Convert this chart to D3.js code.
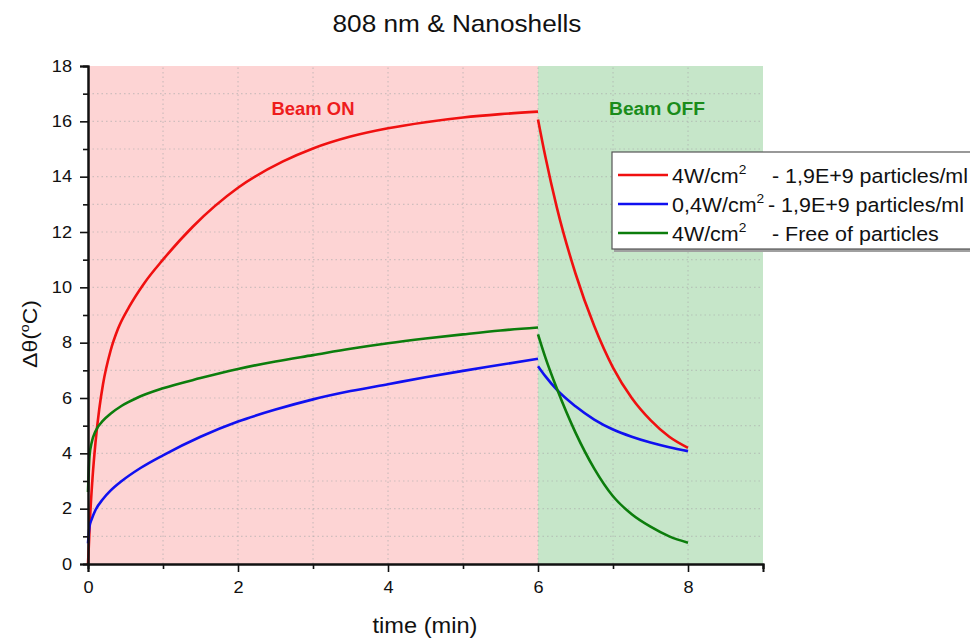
<!DOCTYPE html>
<html>
<head>
<meta charset="utf-8">
<script src="https://cdn.jsdelivr.net/npm/d3@7"></script>
<style>
  body { margin: 0; background: #fff; }
  svg { font-family: "Liberation Sans", Arial, sans-serif; }
</style>
</head>
<body>
<svg id="chart" width="970" height="639"></svg>
<script>
// values: [time (min), delta theta (C)]
var redOn = [[0, 0], [0.03, 1.8], [0.06, 3.1], [0.1, 4.4], [0.15, 5.6], [0.2, 6.5], [0.3, 7.7], [0.4, 8.5],
    [0.55, 9.3], [0.75, 10.15], [1, 11.0], [1.4, 12.2], [2, 13.6], [2.6, 14.55], [3, 15.02], [3.5, 15.45],
    [4, 15.75], [4.5, 15.97], [5, 16.14], [5.5, 16.26], [6, 16.35]];
var redOff = [[6, 16.07], [6.1, 14.7], [6.25, 12.9], [6.5, 10.5], [6.75, 8.6], [7, 7.1], [7.25, 6.0],
    [7.5, 5.2], [7.75, 4.6], [8, 4.2]];
var blueOn = [[0, 0.75], [0.02, 1.35], [0.05, 1.62], [0.1, 1.95], [0.2, 2.35], [0.3, 2.65], [0.45, 3.0],
    [0.7, 3.47], [1, 3.93], [1.5, 4.6], [2, 5.15], [2.5, 5.58], [3, 5.95], [3.5, 6.25], [4, 6.5],
    [4.5, 6.75], [5, 6.98], [5.5, 7.2], [6, 7.42]];
var blueOff = [[6, 7.15], [6.1, 6.78], [6.25, 6.3], [6.5, 5.7], [6.75, 5.22], [7, 4.86], [7.25, 4.6],
    [7.5, 4.39], [7.75, 4.22], [8, 4.08]];
var greenOn = [[0, 2.6], [0.02, 3.9], [0.05, 4.4], [0.1, 4.8], [0.2, 5.18], [0.3, 5.43], [0.45, 5.72],
    [0.65, 6.0], [1, 6.35], [1.5, 6.72], [2, 7.05], [2.5, 7.32], [3, 7.55], [3.5, 7.78], [4, 7.98],
    [4.5, 8.15], [5, 8.3], [5.5, 8.44], [6, 8.55]];
var greenOff = [[6, 8.3], [6.1, 7.45], [6.25, 6.35], [6.5, 4.75], [6.75, 3.45], [7, 2.45], [7.25, 1.8],
    [7.5, 1.35], [7.75, 1.0], [8, 0.77]];

var xTicks = [0, 2, 4, 6, 8];
var xMinor = [1, 3, 5, 7, 9];
var yTicks = [0, 2, 4, 6, 8, 10, 12, 14, 16, 18];
var yMinor = [1, 3, 5, 7, 9, 11, 13, 15, 17];

var series = [
    {name: 'red', color: '#f01010', parts: [redOn, redOff], label: '4W/cm', rest: '- 1,9E+9 particles/ml'},
    {name: 'blue', color: '#1010f0', parts: [blueOn, blueOff], label: '0,4W/cm', rest: '- 1,9E+9 particles/ml'},
    {name: 'green', color: '#0c7d0c', parts: [greenOn, greenOff], label: '4W/cm', rest: '- Free of particles'}
];

var svg = d3.select('#chart');
var x = d3.scaleLinear().domain([0, 9]).range([88, 763]);
var y = d3.scaleLinear().domain([0, 18]).range([564, 66]);

// the reference text is a bit wider than it is tall
var STRETCH = 1.1;

function stretch(sel, k) {
    sel.each(function() {
        var t = d3.select(this);
        var tx = +t.attr('x') || 0, ty = +t.attr('y') || 0;
        t.attr('x', 0).attr('y', 0)
            .attr('transform', 'translate(' + tx + ',' + ty + ') scale(' + k + ',1)');
    });
}

function fitWidth(sel, w) {
    var bw = sel.node().getBBox().width;
    stretch(sel, w / bw);
}

// background regions
svg.append('rect').attr('x', x(0)).attr('y', y(18))
    .attr('width', x(6) - x(0)).attr('height', y(0) - y(18)).attr('fill', '#fdd4d4');
svg.append('rect').attr('x', x(6)).attr('y', y(18))
    .attr('width', x(9) - x(6)).attr('height', y(0) - y(18)).attr('fill', '#c6e6c9');

// dotted grid
var grid = svg.append('g').attr('stroke', '#a9a9a9').attr('stroke-opacity', 0.55)
    .attr('stroke-width', 1.2).attr('stroke-dasharray', '1.5,3');
grid.selectAll('line.h').data(d3.range(1, 18)).enter().append('line')
    .attr('x1', x(0)).attr('x2', x(9)).attr('y1', function(d) { return y(d); }).attr('y2', function(d) { return y(d); });
grid.selectAll('line.v').data(d3.range(1, 9)).enter().append('line')
    .attr('y1', y(0)).attr('y2', y(18)).attr('x1', function(d) { return x(d); }).attr('x2', function(d) { return x(d); });

// curves
var line = d3.line()
    .x(function(d) { return x(d[0]); })
    .y(function(d) { return y(d[1]); })
    .curve(d3.curveMonotoneX);

series.forEach(function(s) {
    s.parts.forEach(function(p) {
        svg.append('path').datum(p).attr('d', line)
            .attr('fill', 'none').attr('stroke', s.color).attr('stroke-width', 2.6);
    });
});

// axes
svg.append('g').attr('transform', 'translate(0,' + y(0) + ')')
    .call(d3.axisBottom(x).tickValues(xMinor).tickSize(5).tickFormat(''));
svg.append('g').attr('transform', 'translate(' + x(0) + ',0)')
    .call(d3.axisLeft(y).tickValues(yMinor).tickSize(5).tickFormat(''));
var xAxis = svg.append('g').attr('transform', 'translate(0,' + y(0) + ')')
    .call(d3.axisBottom(x).tickValues(xTicks).tickSize(8).tickPadding(9).tickFormat(d3.format('d')));
var yAxis = svg.append('g').attr('transform', 'translate(' + x(0) + ',0)')
    .call(d3.axisLeft(y).tickValues(yTicks).tickSize(8).tickPadding(8).tickFormat(d3.format('d')));

svg.selectAll('.domain').attr('stroke', '#111').attr('stroke-width', 2);
svg.selectAll('.tick line').attr('stroke', '#111').attr('stroke-width', 1.6);
svg.selectAll('.tick text').attr('fill', '#111').style('font-size', '16.5px')
    .style('font-family', '"Liberation Sans", Arial, sans-serif');
stretch(xAxis.selectAll('.tick text'), STRETCH);
stretch(yAxis.selectAll('.tick text'), STRETCH);

// titles
var title = svg.append('text').attr('x', 457).attr('y', 32).attr('text-anchor', 'middle')
    .style('font-size', '24px').attr('fill', '#111').text('808 nm & Nanoshells');
fitWidth(title, 249);

var xTitle = svg.append('text').attr('x', 425).attr('y', 633).attr('text-anchor', 'middle')
    .style('font-size', '22px').attr('fill', '#111').text('time (min)');
fitWidth(xTitle, 105);

var yl = svg.append('g').attr('transform', 'translate(37,334) rotate(-90)')
    .append('text').attr('text-anchor', 'middle').style('font-size', '21px').attr('fill', '#111');
yl.append('tspan').text('\u0394\u03b8(');
yl.append('tspan').attr('dy', -8).style('font-size', '13px').text('o');
yl.append('tspan').attr('dy', 8).text('C)');
fitWidth(yl, 68);

var onLabel = svg.append('text').attr('x', 313).attr('y', 115).attr('text-anchor', 'middle')
    .style('font-size', '18px').style('font-weight', 'bold').attr('fill', '#ee1c1c').text('Beam ON');
fitWidth(onLabel, 83);
var offLabel = svg.append('text').attr('x', 657).attr('y', 115).attr('text-anchor', 'middle')
    .style('font-size', '18px').style('font-weight', 'bold').attr('fill', '#1a8c1a').text('Beam OFF');
fitWidth(offLabel, 96);

// legend
var lg = svg.append('g').attr('transform', 'translate(612,152)');
lg.append('rect').attr('x', 2).attr('y', 3).attr('width', 400).attr('height', 97).attr('fill', '#a0a0a0');
lg.append('rect').attr('x', 0).attr('y', 0).attr('width', 400).attr('height', 97)
    .attr('fill', '#fff').attr('stroke', '#555').attr('stroke-width', 1.2);

series.forEach(function(s, i) {
    var row = lg.append('g').attr('transform', 'translate(0,' + (23 + i * 29) + ')');
    row.append('line').attr('x1', 6).attr('x2', 56).attr('y1', 0).attr('y2', 0)
        .attr('stroke', s.color).attr('stroke-width', 2.6);
    var t = row.append('text').attr('x', 60).attr('y', 8).style('font-size', '19.5px').attr('fill', '#111');
    t.append('tspan').text(s.label);
    t.append('tspan').attr('dy', -9).style('font-size', '12.5px').text('2');
    stretch(t, STRETCH);
    var r = row.append('text').attr('x', i == 1 ? 156 : 160).attr('y', 8)
        .style('font-size', '19.5px').attr('fill', '#111').text(s.rest);
    stretch(r, STRETCH);
});
</script>
</body>
</html>
